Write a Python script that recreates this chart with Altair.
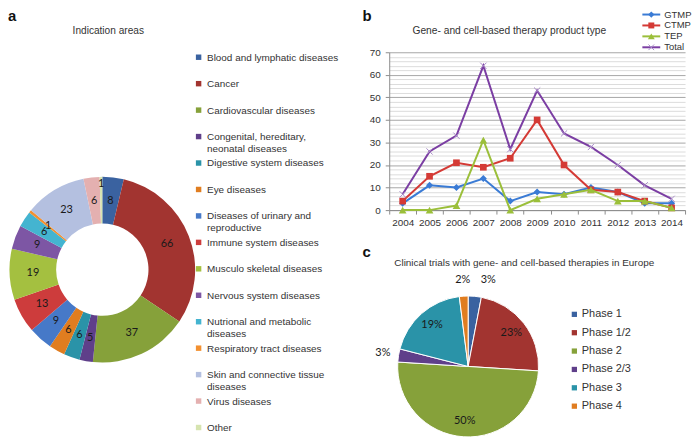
import math
import altair as alt
import pandas as pd

# ---------------- data ----------------
# panel a: indication areas (donut), clockwise from 12 o'clock
a_categories = [
    "Blood and lymphatic diseases", "Cancer", "Cardiovascular diseases",
    "Congenital, hereditary, neonatal diseases", "Digestive system diseases",
    "Eye diseases", "Diseases of urinary and reproductive", "Immune system diseases",
    "Musculo skeletal diseases", "Nervous system diseases",
    "Nutrional and metabolic diseases", "Respiratory tract diseases",
    "Skin and connective tissue diseases", "Virus diseases", "Other",
]
a_legend_labels = [
    "Blood and lymphatic diseases", "Cancer", "Cardiovascular diseases",
    "Congenital, hereditary,\nneonatal diseases", "Digestive system diseases",
    "Eye diseases", "Diseases of urinary and\nreproductive", "Immune system diseases",
    "Musculo skeletal diseases", "Nervous system diseases",
    "Nutrional and metabolic\ndiseases", "Respiratory tract diseases",
    "Skin and connective tissue\ndiseases", "Virus diseases", "Other",
]
a_values = [8, 66, 37, 5, 6, 6, 9, 13, 19, 9, 6, 1, 23, 6, 1]

# panel b: product types per year
years = ["2004", "2005", "2006", "2007", "2008", "2009", "2010", "2011", "2012", "2013", "2014"]
series = ["GTMP", "CTMP", "TEP", "Total"]
gtmp = [3, 11, 10, 14, 4, 8, 7, 10, 8, 3, 3]
ctmp = [4, 15, 21, 19, 23, 40, 20, 9, 8, 4, 1]
tep = [0, 0, 2, 31, 0, 5, 7, 9, 4, 4, 1]
total = [7, 26, 33, 64, 27, 53, 34, 28, 20, 11, 5]

# panel c: clinical trial phases (pie), clockwise from 12 o'clock
c_phases = ["Phase 1", "Phase 1/2", "Phase 2", "Phase 2/3", "Phase 3", "Phase 4"]
c_pct = [3, 23, 50, 3, 19, 2]

title_a = "Indication areas"
title_b = "Gene- and cell-based therapy product type"
title_c = "Clinical trials with gene- and cell-based therapies in Europe"

# ---------------- styles ----------------
a_colors = ["#3a62a0", "#a23430", "#86a13a", "#5f3f8a", "#2a93a8", "#e07d20",
            "#4679c8", "#cd3c3c", "#a4c040", "#7d56a4", "#44b4d0", "#f39030",
            "#b4c0e0", "#e4b0b0", "#d6e4b0"]
s_colors = ["#3a7bd5", "#d43a35", "#9bbf3a", "#7b3ea3"]
m_colors = ["#3a7bd5", "#d43a35", "#9bbf3a", "#a88cc8"]
m_shapes = ["diamond", "square", "triangle-up", "M-1,-1L1,1M-1,1L1,-1"]
m_sizes = [50, 45, 60, 40]
m_filled = [True, True, True, False]
c_colors = ["#3d6cb5", "#b0383a", "#8aaa3a", "#6c4795", "#3397b4", "#ef8a2a"]

SANS = "Liberation Sans"
NUM = "Lato"
TXT = "#333333"
TWO_PI = 2 * math.pi

one = pd.DataFrame({"k": [0]})


def label_text(txt, x, y, size=11, bold=False, align="center", baseline="middle"):
    return alt.Chart(one).mark_text(
        text=txt, fontSize=size, fontWeight="bold" if bold else "normal",
        align=align, baseline=baseline, color="#111" if bold else TXT, font=SANS
    ).encode(x=alt.value(x), y=alt.value(y))


def slice_base(df, valfield, radius_expr, text_expr):
    """Middle angle of each slice, computed from the values."""
    return alt.Chart(df).transform_joinaggregate(
        tot=f"sum({valfield})"
    ).transform_window(
        cum=f"sum({valfield})", sort=[alt.SortField("idx")]
    ).transform_calculate(
        mid=f"(datum.cum - datum.{valfield} / 2) / datum.tot",
        r=radius_expr, t=text_expr,
    )


def slice_text(base, cx, cy, dx=0):
    return base.mark_text(fontSize=11, font=NUM, color="#1a1a1a", dx=dx).encode(
        theta=alt.Theta("mid:Q", scale=alt.Scale(domain=[0, 1], range=[0, TWO_PI])),
        radius=alt.Radius("r:Q", scale=None), text="t:N",
        x=alt.value(cx), y=alt.value(cy))


# ---------------- panel a ----------------
df_a = pd.DataFrame({"cat": a_categories, "lab": a_legend_labels, "val": a_values,
                     "idx": list(range(len(a_categories)))})
a_color = alt.Color("cat:N", scale=alt.Scale(domain=a_categories, range=a_colors), legend=None)
A_CX, A_CY = 95, 262

donut = alt.Chart(df_a).mark_arc(innerRadius=46.5, outerRadius=93.5).encode(
    theta=alt.Theta("val:Q", stack=True), order=alt.Order("idx:Q"), color=a_color,
    x=alt.value(A_CX), y=alt.value(A_CY))
donut_lab = slice_text(slice_base(df_a, "val", "datum.cat === 'Other' ? 86 : 70", "'' + datum.val"),
                       A_CX, A_CY)

a_y = alt.Y("cat:N", scale=alt.Scale(type="point", domain=a_categories, range=[48, 421], padding=0), axis=None)
a_leg_sq = alt.Chart(df_a).mark_square(size=30, opacity=1).encode(
    y=a_y, x=alt.value(192), color=a_color)
a_leg_tx = alt.Chart(df_a).mark_text(
    align="left", baseline="alphabetic", dy=3.5, lineBreak="\n", lineHeight=12,
    fontSize=10, font=SANS, color=TXT).encode(y=a_y, x=alt.value(200.5), text="lab:N")

panel_a = alt.layer(
    donut, donut_lab, a_leg_sq, a_leg_tx,
    label_text(title_a, 101, 22, 10.2),
    label_text("a", 0, 0, 15, bold=True, align="left", baseline="top"),
).resolve_scale(theta="independent").properties(width=360, height=431)

# ---------------- panel b ----------------
rows = []
for s, vals in zip(series, [gtmp, ctmp, tep, total]):
    for yr, v in zip(years, vals):
        rows.append({"year": yr, "series": s, "value": v})
df_b = pd.DataFrame(rows)

x_b = alt.X("year:O", scale=alt.Scale(type="band", domain=years, paddingInner=0, paddingOuter=0),
            axis=alt.Axis(title=None, tickBand="extent", domainColor="#8c8c8c", tickColor="#8c8c8c",
                          tickSize=4, labelFontSize=10, labelPadding=4, labelAngle=0,
                          labelColor=TXT, labelFont=SANS, grid=False))
y_b = alt.Y("value:Q", scale=alt.Scale(domain=[0, 70], range=[202, 43], nice=False, zero=True),
            axis=alt.Axis(title=None, values=list(range(0, 71, 2)),
                          labelExpr="datum.value % 10 === 0 ? datum.label : ''",
                          gridColor={"condition": {"test": "datum.value % 10 === 0", "value": "#a6a6a6"}, "value": "#dcdcdc"},
                          tickOpacity={"condition": {"test": "datum.value % 10 === 0", "value": 1}, "value": 0},
                          tickSize=4, tickColor="#8c8c8c", domainColor="#8c8c8c", labelPadding=5,
                          labelFontSize=10, labelColor=TXT, labelFont=SANS, grid=True))

line_layers = []
for i, s in enumerate(series):
    base = alt.Chart(df_b).transform_filter(alt.datum.series == s)
    line_layers.append(base.mark_line(strokeWidth=2, color=s_colors[i]).encode(x=x_b, y=y_b))
    line_layers.append(base.mark_point(shape=m_shapes[i], size=m_sizes[i], filled=m_filled[i],
                                       opacity=1, strokeWidth=1, color=m_colors[i]).encode(x=x_b, y=y_b))

df_leg_b = pd.DataFrame({"series": series})
leg_y = alt.Y("series:N", scale=alt.Scale(type="point", domain=series, range=[5, 38], padding=0), axis=None)
leg_layers = []
for i, s in enumerate(series):
    lb = alt.Chart(df_leg_b).transform_filter(alt.datum.series == s)
    leg_layers.append(lb.mark_rule(strokeWidth=2, color=s_colors[i]).encode(
        y=leg_y, x=alt.value(255), x2=alt.value(273)))
    leg_layers.append(lb.mark_point(shape=m_shapes[i], size=m_sizes[i] * 0.8, filled=m_filled[i],
                                    opacity=1, strokeWidth=1, color=m_colors[i]).encode(
        y=leg_y, x=alt.value(264)))
leg_layers.append(alt.Chart(df_leg_b).mark_text(align="left", fontSize=9.5, font=SANS, color=TXT).encode(
    y=leg_y, x=alt.value(277), text="series:N"))

panel_b = alt.layer(
    alt.layer(*line_layers),
    alt.layer(*leg_layers, label_text(title_b, 121, 22, 10.3),
              label_text("b", -27, 0, 15, bold=True, align="left", baseline="top")),
).resolve_scale(y="independent").properties(width=298, height=202)

# ---------------- panel c ----------------
df_c = pd.DataFrame({"phase": c_phases, "pct": c_pct, "idx": list(range(len(c_phases)))})
c_color = alt.Color("phase:N", scale=alt.Scale(domain=c_phases, range=c_colors), legend=None)
C_CX, C_CY = 79.5, 135.5

pie = alt.Chart(df_c).mark_arc(outerRadius=71, stroke="white", strokeWidth=1).encode(
    theta=alt.Theta("pct:Q", stack=True), order=alt.Order("idx:Q"), color=c_color,
    x=alt.value(C_CX), y=alt.value(C_CY))
c_base = slice_base(df_c, "pct", "datum.pct < 5 ? 87 : 55", "datum.pct + '%'")
pie_lab = slice_text(c_base.transform_filter("datum.idx !== 0"), C_CX, C_CY)
pie_lab_first = slice_text(c_base.transform_filter("datum.idx === 0"), C_CX, C_CY, dx=12)

c_y = alt.Y("phase:N", scale=alt.Scale(type="point", domain=c_phases, range=[83, 175.5], padding=0), axis=None)
c_leg_sq = alt.Chart(df_c).mark_square(size=28, opacity=1).encode(y=c_y, x=alt.value(186.5), color=c_color)
c_leg_tx = alt.Chart(df_c).mark_text(align="left", fontSize=11, font=SANS, color=TXT).encode(
    y=c_y, x=alt.value(194), text="phase:N")

panel_c = alt.layer(
    pie, pie_lab, pie_lab_first, c_leg_sq, c_leg_tx,
    label_text(title_c, 136, 31.5, 10),
    label_text("c", -27, 13, 15, bold=True, align="left", baseline="top"),
).resolve_scale(theta="independent").properties(width=298, height=207)

right = alt.vconcat(panel_b, panel_c, spacing=22, bounds="flush")
chart = alt.hconcat(panel_a, right, spacing=24, bounds="flush").properties(
    padding=0
).configure(font=SANS).configure_view(strokeWidth=0)

chart.save("out.html", embed_options={"renderer": "svg", "actions": False})
